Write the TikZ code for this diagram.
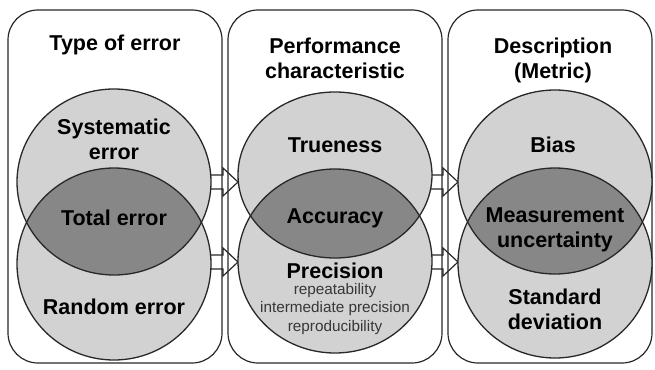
\documentclass[tikz,border=0pt]{standalone}
\usepackage{fontspec}
\setmainfont{Liberation Sans}
\definecolor{lightfill}{RGB}{210,210,210}
\definecolor{lensfill}{RGB}{135,135,135}
\definecolor{edgecol}{RGB}{40,40,40}
\definecolor{smalltext}{RGB}{55,55,55}
\newcommand{\blkarrow}[2]{% tip x, tip y
  \draw[arrowline] ({#1-43},{#2-7}) -- ({#1-15},{#2-7}) -- ({#1-15},{#2-14})
    -- (#1,#2) -- ({#1-15},{#2+14}) -- ({#1-15},{#2+7}) -- ({#1-43},{#2+7});}
\begin{document}
\begin{tikzpicture}[x=1pt,y=-1pt,
  panel/.style={draw=edgecol,line width=1.2pt,rounded corners=30pt,fill=white},
  arrowline/.style={draw=edgecol,line width=1.2pt,line join=miter},
  disc/.style={fill=lightfill},
  ring/.style={draw=edgecol,line width=1.3pt},
  big/.style={font=\fontsize{21.5}{25}\selectfont\bfseries,align=center,text=black,inner sep=0pt},
  small/.style={font=\fontsize{15.3}{18.5}\selectfont,align=center,text=smalltext,inner sep=0pt}]
\useasboundingbox (0,0) rectangle (655,369);
% panels
\draw[panel] (8,10) rectangle (222,363);
\draw[panel] (228,10) rectangle (442,363);
\draw[panel] (448,10) rectangle (652,363);
% block arrows
\blkarrow{238}{182}
\blkarrow{238}{262}
\blkarrow{458}{182}
\blkarrow{458}{262}
% panel 1 circles
\fill[disc] (114,182) ellipse [x radius=97,y radius=93];
\fill[disc] (114,264) ellipse [x radius=97,y radius=96];
\begin{scope}
  \clip (114,182) ellipse [x radius=97,y radius=93];
  \fill[lensfill] (114,264) ellipse [x radius=97,y radius=96];
\end{scope}
\draw[ring] (114,182) ellipse [x radius=97,y radius=93];
\draw[ring] (114,264) ellipse [x radius=97,y radius=96];
% panel 2 circles
\fill[disc] (335,175) ellipse [x radius=97,y radius=83];
\fill[disc] (335,261) ellipse [x radius=97,y radius=92];
\begin{scope}
  \clip (335,175) ellipse [x radius=97,y radius=83];
  \fill[lensfill] (335,261) ellipse [x radius=97,y radius=92];
\end{scope}
\draw[ring] (335,175) ellipse [x radius=97,y radius=83];
\draw[ring] (335,261) ellipse [x radius=97,y radius=92];
% panel 3 circles
\fill[disc] (555,182) ellipse [x radius=97,y radius=92];
\fill[disc] (555,263) ellipse [x radius=97,y radius=95];
\begin{scope}
  \clip (555,182) ellipse [x radius=97,y radius=92];
  \fill[lensfill] (555,263) ellipse [x radius=97,y radius=95];
\end{scope}
\draw[ring] (555,182) ellipse [x radius=97,y radius=92];
\draw[ring] (555,263) ellipse [x radius=97,y radius=95];
% texts panel 1
\node[big] (t1) at (115,45) {Type of error};
\node[big] (sys) at (114,139) {Systematic\\error};
\node[big] (tot) at (114,218) {Total error};
\node[big] (rnd) at (114,307) {Random error};
% texts panel 2
\node[big] (t2) at (335,58) {Performance\\characteristic};
\node[big] (tru) at (335,145) {Trueness};
\node[big] (acc) at (335,218) {Accuracy};
\node[big] (pre) at (335,271) {Precision};
\node[small] (sub) at (335,309) {repeatability\\intermediate precision\\reproducibility};
% texts panel 3
\node[big] (t3) at (553,60) {Description\\(Metric)};
\node[big] (bias) at (553,145) {Bias};
\node[big] (mu) at (555,230) {Measurement\\uncertainty};
\node[big] (sd) at (555,309) {Standard\\deviation};
\end{tikzpicture}
\end{document}
